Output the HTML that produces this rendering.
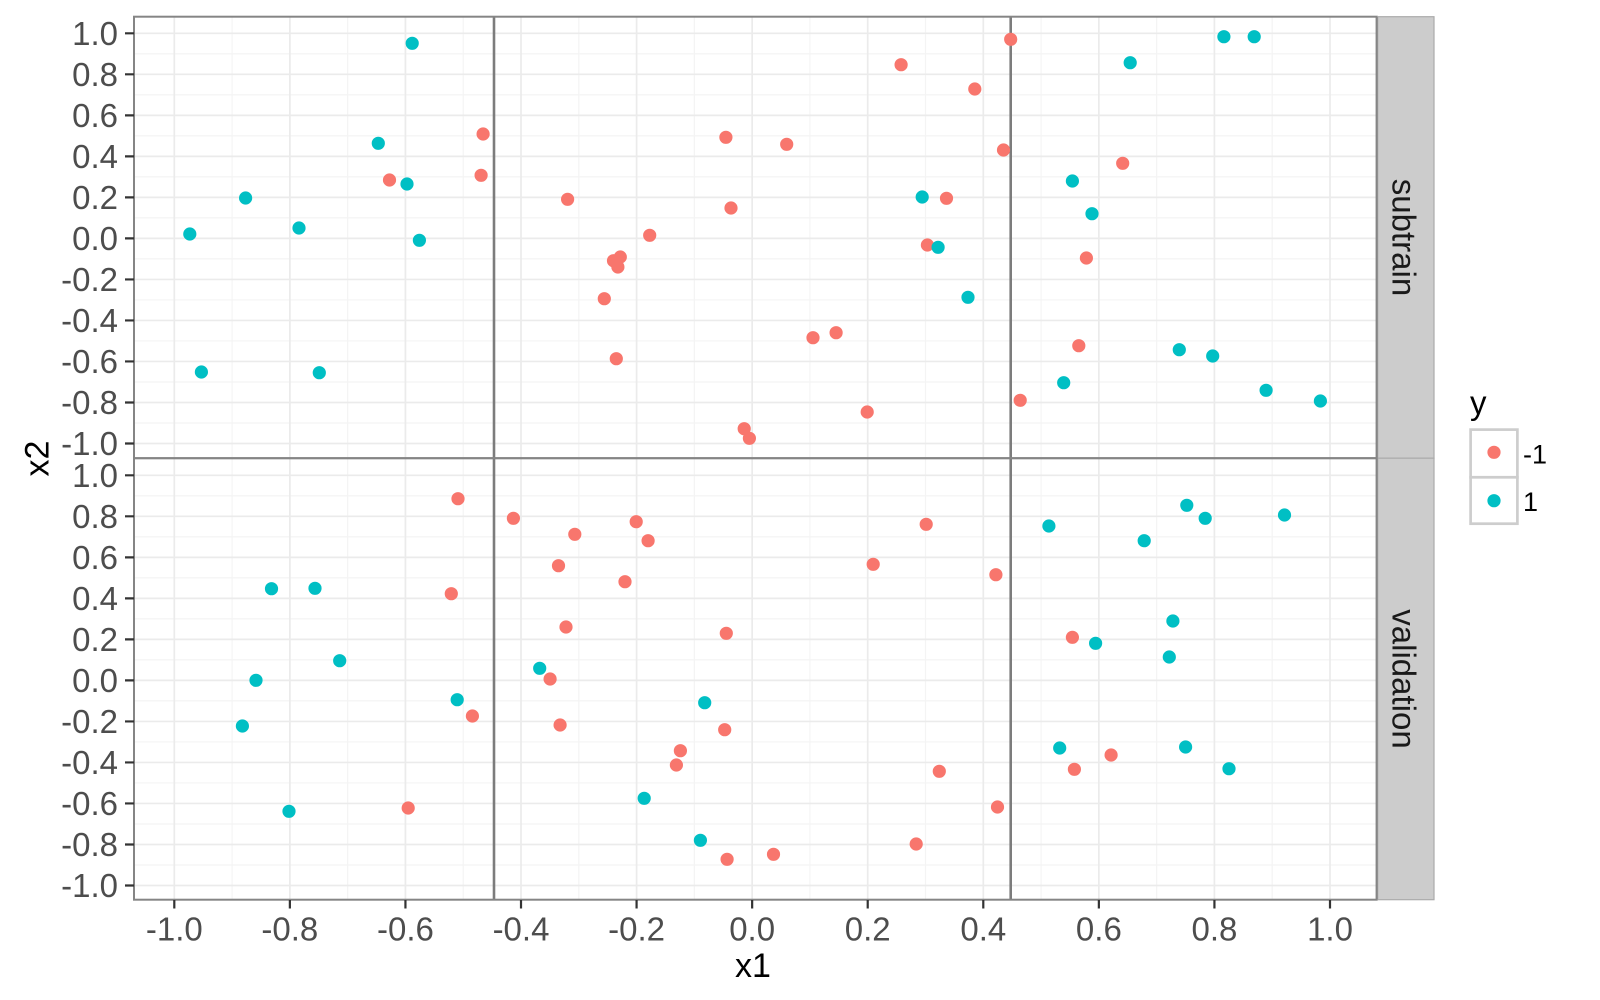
<!DOCTYPE html>
<html>
<head>
<meta charset="utf-8">
<style>
html,body{margin:0;padding:0;background:#fff;}
svg{display:block;}
text{font-family:"Liberation Sans",Arial,sans-serif;}
</style>
</head>
<body>
<svg width="1600" height="1000" viewBox="0 0 1600 1000" xmlns="http://www.w3.org/2000/svg">
<rect x="0" y="0" width="1600" height="1000" fill="#ffffff"/>
<g stroke="#F4F4F4" stroke-width="1.2" fill="none">
<path d="M232.09 16.7V899.7M347.66 16.7V899.7M463.23 16.7V899.7M578.8 16.7V899.7M694.37 16.7V899.7M809.94 16.7V899.7M925.51 16.7V899.7M1041.08 16.7V899.7M1156.65 16.7V899.7M1272.22 16.7V899.7"/>
<path d="M134 53.81H1376.7M134 94.83H1376.7M134 135.85H1376.7M134 176.87H1376.7M134 217.89H1376.7M134 258.91H1376.7M134 299.93H1376.7M134 340.95H1376.7M134 381.97H1376.7M134 422.99H1376.7M134 495.81H1376.7M134 536.83H1376.7M134 577.85H1376.7M134 618.87H1376.7M134 659.89H1376.7M134 700.91H1376.7M134 741.93H1376.7M134 782.95H1376.7M134 823.97H1376.7M134 864.99H1376.7"/>
</g>
<g stroke="#EBEBEB" stroke-width="1.7" fill="none">
<path d="M174.3 16.7V899.7M289.87 16.7V899.7M405.44 16.7V899.7M521.01 16.7V899.7M636.58 16.7V899.7M752.15 16.7V899.7M867.72 16.7V899.7M983.29 16.7V899.7M1098.86 16.7V899.7M1214.43 16.7V899.7M1330 16.7V899.7"/>
<path d="M134 33.3H1376.7M134 74.32H1376.7M134 115.34H1376.7M134 156.36H1376.7M134 197.38H1376.7M134 238.4H1376.7M134 279.42H1376.7M134 320.44H1376.7M134 361.46H1376.7M134 402.48H1376.7M134 443.5H1376.7M134 475.3H1376.7M134 516.32H1376.7M134 557.34H1376.7M134 598.36H1376.7M134 639.38H1376.7M134 680.4H1376.7M134 721.42H1376.7M134 762.44H1376.7M134 803.46H1376.7M134 844.48H1376.7M134 885.5H1376.7"/>
</g>
<path d="M494 16.7V899.7M1010.7 16.7V899.7" stroke="#7C7C7C" stroke-width="2.6"/>
<path fill="none" stroke="#F8766D" stroke-width="13.2" stroke-linecap="round" d="M483.1 134h0M481.1 175.3h0M389.5 180h0M725.9 137.3h0M567.6 199.3h0M731 208h0M649.7 235.3h0M620.3 257h0M613.5 260.7h0M617.9 267h0M604.3 298.7h0M616.3 358.7h0M744.2 428.7h0M749.4 438.3h0M1010.7 39.3h0M901.1 64.7h0M974.8 89h0M786.7 144.3h0M1003.5 150h0M946.5 198.3h0M927.4 245h0M836.1 332.7h0M813 337.7h0M867.2 412h0M1122.7 163.3h0M1086.4 258h0M1078.8 345.7h0M1020.2 400.3h0M458 498.7h0M513.4 518.3h0M636.2 521.7h0M574.8 534.3h0M648.1 540.7h0M558.5 565.7h0M625 581.7h0M451.3 593.7h0M566 627h0M726.3 633.3h0M472.4 716h0M560.1 725h0M724.7 729.7h0M680.4 750.7h0M676.4 765h0M408.2 808h0M727.1 859.3h0M926.2 524.3h0M873.2 564.3h0M995.9 574.7h0M939.3 771.3h0M997.5 807h0M916.2 844h0M773.5 854.3h0M1072.4 637.3h0M1111.1 755h0M1074.4 769.3h0"/>
<path fill="none" stroke="#00BFC4" stroke-width="13.2" stroke-linecap="round" d="M412.2 43.3h0M378.3 143.3h0M407 184h0M245.6 198h0M299 228h0M189.8 234h0M419.4 240.3h0M201.4 372h0M319.3 372.7h0M922.2 197h0M938.1 247.3h0M968 297.3h0M1223.9 36.7h0M1254.2 36.7h0M1130.2 62.7h0M1072.4 181h0M1092 213.7h0M1179.3 349.7h0M1212.7 356h0M1063.7 382.7h0M1266.1 390.3h0M1320.4 401h0M271.5 588.7h0M315 588.3h0M339.7 660.7h0M539.7 668.3h0M256 680.3h0M457.2 699.7h0M704.7 702.7h0M242.4 726h0M644.2 798.3h0M289 811.3h0M700.4 840.3h0M1186.8 505.3h0M1205.2 518.3h0M1284.5 515h0M1048.9 526h0M1144.2 540.7h0M1172.9 621h0M1095.6 643.3h0M1169.3 657h0M1059.7 748h0M1185.6 747h0M1229 768.7h0"/>
<path fill="none" stroke="#F8766D" stroke-width="13.2" stroke-linecap="round" d="M550.1 679h0"/>
<g fill="none" stroke="#858585" stroke-width="2">
<rect x="134" y="16.7" width="1242.7" height="441.5"/>
<rect x="134" y="458.2" width="1242.7" height="441.5"/>
</g>
<g fill="#CCCCCC" stroke="#ABABAB" stroke-width="1.2">
<rect x="1377.7" y="16.7" width="56.3" height="441.5"/>
<rect x="1377.7" y="458.2" width="56.3" height="441.5"/>
</g>
<line x1="1376.7" y1="16.7" x2="1376.7" y2="899.7" stroke="#858585" stroke-width="2"/>
<text transform="translate(1392.5,237.5) rotate(90)" text-anchor="middle" font-size="33" fill="#1A1A1A">subtrain</text>
<text transform="translate(1392.5,679) rotate(90)" text-anchor="middle" font-size="33" fill="#1A1A1A">validation</text>
<path stroke="#333333" stroke-width="2.2" d="M125 33.3H134M125 74.32H134M125 115.34H134M125 156.36H134M125 197.38H134M125 238.4H134M125 279.42H134M125 320.44H134M125 361.46H134M125 402.48H134M125 443.5H134M125 475.3H134M125 516.32H134M125 557.34H134M125 598.36H134M125 639.38H134M125 680.4H134M125 721.42H134M125 762.44H134M125 803.46H134M125 844.48H134M125 885.5H134M174.3 900V908.5M289.87 900V908.5M405.44 900V908.5M521.01 900V908.5M636.58 900V908.5M752.15 900V908.5M867.72 900V908.5M983.29 900V908.5M1098.86 900V908.5M1214.43 900V908.5M1330 900V908.5"/>
<text font-size="33" fill="#4D4D4D" text-anchor="end"><tspan x="118" y="45">1.0</tspan><tspan x="118" y="86">0.8</tspan><tspan x="118" y="127">0.6</tspan><tspan x="118" y="168.1">0.4</tspan><tspan x="118" y="209.1">0.2</tspan><tspan x="118" y="250.1">0.0</tspan><tspan x="118" y="291.1">-0.2</tspan><tspan x="118" y="332.1">-0.4</tspan><tspan x="118" y="373.2">-0.6</tspan><tspan x="118" y="414.2">-0.8</tspan><tspan x="118" y="455.2">-1.0</tspan></text>
<text font-size="33" fill="#4D4D4D" text-anchor="end"><tspan x="118" y="487">1.0</tspan><tspan x="118" y="528">0.8</tspan><tspan x="118" y="569">0.6</tspan><tspan x="118" y="610.1">0.4</tspan><tspan x="118" y="651.1">0.2</tspan><tspan x="118" y="692.1">0.0</tspan><tspan x="118" y="733.1">-0.2</tspan><tspan x="118" y="774.1">-0.4</tspan><tspan x="118" y="815.2">-0.6</tspan><tspan x="118" y="856.2">-0.8</tspan><tspan x="118" y="897.2">-1.0</tspan></text>
<text font-size="33" fill="#4D4D4D" text-anchor="middle" y="940.5"><tspan x="174.3">-1.0</tspan><tspan x="289.87">-0.8</tspan><tspan x="405.44">-0.6</tspan><tspan x="521.01">-0.4</tspan><tspan x="636.58">-0.2</tspan><tspan x="752.15">0.0</tspan><tspan x="867.72">0.2</tspan><tspan x="983.29">0.4</tspan><tspan x="1098.86">0.6</tspan><tspan x="1214.43">0.8</tspan><tspan x="1330">1.0</tspan></text>
<text x="753" y="977" font-size="34" fill="#000" text-anchor="middle">x1</text>
<text transform="translate(48.3,458.5) rotate(-90)" font-size="34" fill="#000" text-anchor="middle">x2</text>
<text x="1470" y="414" font-size="33" fill="#000">y</text>
<g fill="#ffffff" stroke="#CDCDCD" stroke-width="2.7">
<rect x="1470.6" y="429.6" width="46.8" height="47.7"/>
<rect x="1470.6" y="477.3" width="46.8" height="46.4"/>
</g>
<circle cx="1494" cy="452.3" r="6.6" fill="#F8766D"/>
<circle cx="1494" cy="500.7" r="6.6" fill="#00BFC4"/>
<text x="1523" y="463.5" font-size="27" fill="#000">-1</text>
<text x="1523" y="511" font-size="27" fill="#000">1</text>
</svg>
</body>
</html>
